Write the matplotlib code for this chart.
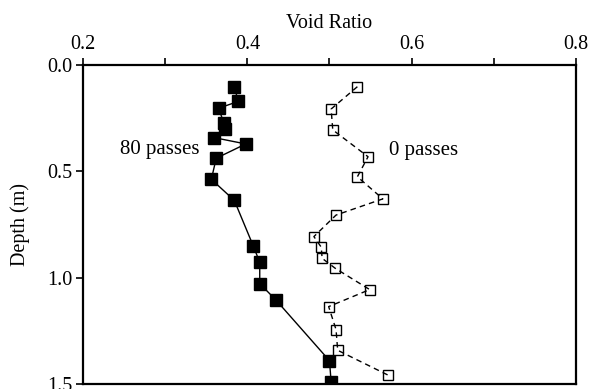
import numpy as np
import matplotlib.pyplot as plt

plt.rcParams['font.family'] = ['Liberation Serif', 'DejaVu Serif']

# 80 passes (filled squares)
void_80 = [0.384, 0.389, 0.365, 0.371, 0.373, 0.359, 0.398, 0.362,
           0.356, 0.384, 0.407, 0.415, 0.415, 0.435, 0.500, 0.502]
depth_80 = [0.105, 0.171, 0.203, 0.271, 0.302, 0.341, 0.371, 0.438,
            0.537, 0.636, 0.849, 0.927, 1.027, 1.105, 1.389, 1.489]

# 0 passes (open squares)
void_0 = [0.534, 0.502, 0.504, 0.547, 0.534, 0.565, 0.508, 0.481,
          0.490, 0.491, 0.507, 0.549, 0.499, 0.508, 0.510, 0.571]
depth_0 = [0.102, 0.207, 0.305, 0.431, 0.525, 0.629, 0.705, 0.806,
           0.856, 0.908, 0.955, 1.055, 1.135, 1.243, 1.340, 1.456]

fig = plt.figure(figsize=(5.91, 3.89), dpi=100)
ax = fig.add_axes([0.141, 0.012, 0.833, 0.821])

ax.plot(void_80, depth_80, color='black', lw=1.0, marker='s', ms=8,
        mfc='black', mec='black', zorder=3)
# open squares drawn under the dashed line
ax.plot(void_0, depth_0, ls='none', marker='s', ms=7, mfc='white',
        mec='black', mew=1.0, zorder=3)
ax.plot(void_0, depth_0, color='black', lw=1.0, ls=(0, (4, 3)), zorder=4)

ax.text(0.245, 0.395, '80 passes', fontsize=15, va='center', ha='left')
ax.text(0.573, 0.40, '0 passes', fontsize=15, va='center', ha='left')

ax.set_xlim(0.2, 0.8)
ax.set_ylim(1.5, 0.0)
ax.xaxis.tick_top()
ax.xaxis.set_label_position('top')
ax.set_xticks([0.2, 0.4, 0.6, 0.8])
ax.set_xticklabels(['0.2', '0.4', '0.6', '0.8'])
ax.set_xticks([0.3, 0.5, 0.7], minor=True)
ax.set_yticks([0.0, 0.5, 1.0, 1.5])
ax.set_yticklabels(['0.0', '0.5', '1.0', '1.5'])
ax.tick_params(axis='both', which='both', direction='out', length=5,
               width=1.2, labelsize=14.5, pad=3)
ax.set_xlabel('Void Ratio', fontsize=14.5, labelpad=5)
ax.set_ylabel('Depth (m)', fontsize=14.5, labelpad=12)
for s in ax.spines.values():
    s.set_linewidth(1.6)

fig.savefig('out.png', dpi=100)
